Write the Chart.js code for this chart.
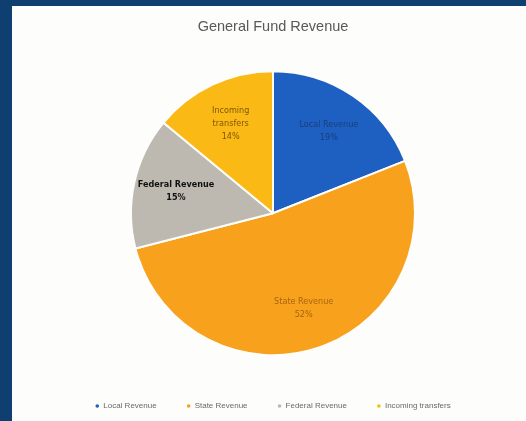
<!DOCTYPE html>
<html>
<head>
<meta charset="utf-8">
<script src="https://cdn.jsdelivr.net/npm/chart.js@4"></script>
<style>
    html, body { margin: 0; padding: 0; }
    body { width: 526px; height: 421px; background: #0f3e70; position: relative; overflow: hidden; }
    #panel { position: absolute; left: 12px; top: 6px; width: 514px; height: 415px; background: #fdfdfc; }
    #chart-box { position: absolute; left: 0; top: 0; width: 514px; height: 415px; }
</style>
</head>
<body>
<div id="panel"><div id="chart-box"><canvas id="revenueChart"></canvas></div></div>
<script>
const categories = ['Local Revenue', 'State Revenue', 'Federal Revenue', 'Incoming transfers'];
const shares = [19, 52, 15, 14];
const sliceLabels = [['Local Revenue', '19%'], ['State Revenue', '52%'], ['Federal Revenue', '15%'], ['Incoming', 'transfers', '14%']];
const sliceColors = ['#1e5fc2', '#f7a11c', '#bdb9b0', '#fbb915'];

// draws the label text inside each slice, a bit further out than the midpoint
const sliceLabelPlugin = {
    id: 'sliceLabels',
    afterDatasetsDraw(chart) {
        const ctx = chart.ctx;
        const meta = chart.getDatasetMeta(0);
        const textColors = ['#1b3f78', '#a8650f', '#111111', '#7d5708'];
        const weights = ['normal', 'normal', 'bold', 'normal'];
        ctx.save();
        ctx.textAlign = 'center';
        ctx.textBaseline = 'middle';
        meta.data.forEach((arc, i) => {
            const p = arc.getProps(['x', 'y', 'startAngle', 'endAngle', 'outerRadius'], true);
            const mid = (p.startAngle + p.endAngle) / 2;
            const dist = p.outerRadius * 0.7;
            const cx = p.x + Math.cos(mid) * dist;
            const cy = p.y + Math.sin(mid) * dist;
            const lines = sliceLabels[i];
            ctx.fillStyle = textColors[i];
            ctx.font = weights[i] + ' 9px "Liberation Sans Narrow", "DejaVu Sans Condensed", sans-serif';
            const lh = 13;
            const startY = cy - (lines.length - 1) * lh / 2;
            lines.forEach((line, k) => ctx.fillText(line, cx, startY + k * lh));
        });
        ctx.restore();
    }
};

const ctx = document.getElementById('revenueChart').getContext('2d');
new Chart(ctx, {
    type: 'pie',
    data: {
        labels: categories,
        datasets: [{
            data: shares,
            backgroundColor: sliceColors,
            borderColor: '#fdfdfc',
            borderWidth: 2,
            radius: 142
        }]
    },
    options: {
        responsive: true,
        maintainAspectRatio: false,
        animation: false,
        layout: { padding: { top: 0, bottom: 1, left: 8 } },
        plugins: {
            title: {
                display: true,
                text: 'General Fund Revenue',
                color: '#595959',
                font: { family: 'Liberation Sans, sans-serif', size: 14.5, weight: 'normal' },
                padding: { top: 12, bottom: 19 }
            },
            legend: {
                position: 'bottom',
                labels: {
                    usePointStyle: true,
                    pointStyle: 'circle',
                    boxWidth: 4,
                    boxHeight: 4,
                    padding: 30,
                    color: '#6a6a6a',
                    font: { family: 'Liberation Sans Narrow, sans-serif', size: 8 }
                }
            },
            tooltip: { enabled: false }
        }
    },
    plugins: [sliceLabelPlugin]
});
</script>
</body>
</html>
